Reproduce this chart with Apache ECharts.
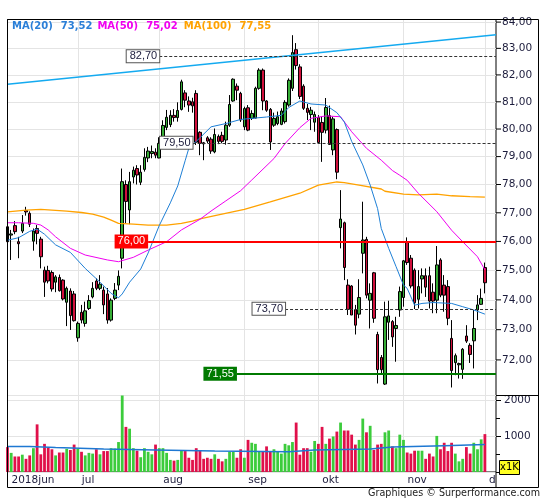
<!DOCTYPE html>
<html><head><meta charset="utf-8">
<script src="https://cdn.jsdelivr.net/npm/echarts/dist/echarts.min.js"></script>
<style>html,body{margin:0;padding:0;background:#fff}#c{width:545px;height:500px}</style>
</head><body><div id="c"></div>
<script>
// ---------- data ----------
const startDate = [2018, 5, 5];   // first trading day shown (2018-06-05)
const slotCount = 133;            // weekdays on the axis (incl. empty days at the end)
const monthNames = ['jan','feb','mar','apr','mai','jun','jul','aug','sep','okt','nov','d'];

const open = [76.51,76.22,76.55,75.99,76.36,77.08,76.98,76.01,76.45,76.08, 75.01,75.00,74.93,74.60,74.76,74.67,73.92,74.30,74.20,72.73, 73.58,73.21,73.71,74.10,74.64,74.39,74.33,74.20,73.32,74.05, 74.50,75.42,78.00,77.10,78.27,78.57,78.08,78.54,78.95,79.11, 79.16,78.95,79.55,80.06,80.16,80.50,80.42,80.72,81.33,81.03, 81.00,81.31,79.88,79.50,79.68,79.63,79.17,79.73,79.77,79.60, 80.14,81.03,81.58,81.31,80.08,80.78,80.39,80.40,81.50,82.18, 81.03,80.72,80.14,80.20,80.17,80.27,80.88,81.50,82.95,82.30, 81.58,80.76,80.53,80.25,80.42,80.24,79.96,80.49,79.24,79.98, 76.48,76.65,74.50,74.47,73.67,73.52,75.59,76.07,73.99,74.92, 72.84,72.08,71.21,73.25,73.27,73.04,73.66,74.08,75.97,75.42, 75.01,74.02,74.71,74.82,74.82,74.26,73.99,75.36,74.50,74.45, 72.71,71.91,71.84,71.69,72.79,72.48,72.63,73.66,73.85,75.10];
const close = [75.99,76.26,76.34,75.92,76.63,77.03,76.60,76.36,76.28,75.47, 74.60,74.64,74.37,74.78,74.31,74.03,74.39,73.47,73.30,73.21, 73.32,73.63,73.98,74.39,74.39,74.53,73.83,73.32,73.99,74.33, 74.80,78.10,77.40,78.10,78.51,78.34,78.44,78.97,79.20,79.18, 79.05,79.48,80.13,80.43,80.50,80.42,80.68,81.74,81.06,80.88, 80.85,79.52,79.48,79.46,79.56,79.20,79.80,79.55,79.55,80.14, 80.90,81.84,81.43,80.33,80.75,79.96,80.57,81.50,82.18,81.03, 80.69,79.53,80.39,80.45,80.66,80.98,81.80,82.84,82.35,81.20, 80.76,80.61,80.69,80.53,79.51,79.88,80.79,79.44,80.37,78.44, 76.78,75.10,73.68,73.49,73.15,74.08,76.05,74.16,74.22,73.38, 71.68,71.68,73.43,73.46,72.76,73.14,74.28,75.33,75.27,74.47, 73.90,74.45,74.82,74.43,73.96,73.96,75.19,74.16,74.16,73.38, 71.65,72.14,71.88,72.35,72.62,72.18,73.04,73.83,74.05,74.58];
const low = [75.88,75.36,76.25,75.42,76.29,76.90,76.50,75.68,75.90,75.07, 74.10,74.56,74.28,74.26,74.28,73.98,73.12,72.99,73.27,72.60, 73.21,73.10,73.66,74.05,74.33,74.33,73.52,73.20,73.27,73.99, 74.33,75.07,76.63,76.60,78.04,78.00,77.98,78.46,78.80,78.94, 78.94,78.94,79.54,79.96,80.07,80.27,80.27,80.68,80.80,80.63, 80.60,79.42,79.05,78.87,79.49,79.10,79.12,79.45,79.48,79.43, 80.08,81.00,81.06,80.26,79.96,79.92,80.33,80.39,81.45,80.69, 80.63,79.24,80.08,80.14,80.14,80.20,80.82,81.40,82.20,81.10, 80.70,80.33,79.96,79.90,79.51,78.81,79.84,79.42,79.05,78.19, 75.76,74.67,73.49,73.49,72.84,73.38,74.90,74.05,73.04,73.23, 71.23,71.55,71.18,72.66,72.43,71.94,73.43,73.77,75.19,74.39, 73.69,73.71,74.22,74.10,73.71,73.55,73.55,74.09,73.60,73.15, 71.10,71.50,71.39,71.38,72.56,71.90,71.72,73.32,73.83,74.22];
const high = [76.75,76.40,76.71,76.16,76.92,77.21,77.05,76.45,76.57,76.16, 75.13,75.16,75.00,74.84,74.86,74.70,74.45,74.39,74.30,73.27, 73.83,73.94,74.16,74.60,74.73,74.84,74.45,74.40,74.05,74.57, 75.00,78.57,78.15,78.45,78.64,78.69,78.69,79.30,79.35,79.40, 79.30,79.70,80.32,80.70,80.69,80.73,80.98,81.82,81.43,81.20, 81.15,81.43,79.92,79.53,79.74,79.70,80.02,79.80,79.90,80.27, 81.25,81.87,81.68,81.37,80.82,80.88,80.69,81.56,82.25,82.24, 81.06,80.77,80.60,80.64,80.76,81.06,81.87,83.50,83.20,82.40, 81.65,80.92,80.81,80.64,80.51,80.45,81.14,80.86,80.45,80.02, 77.80,76.69,74.70,74.50,73.83,74.70,77.39,76.16,74.56,74.95, 72.93,72.16,73.94,73.97,73.32,73.43,74.45,75.36,76.14,75.53, 75.07,75.01,75.07,75.07,75.13,74.56,75.84,75.42,74.84,74.67, 73.32,72.21,71.91,72.39,73.15,72.55,73.66,74.16,74.38,75.27];

// volume in thousands
const volume = [690,530,430,430,480,365,460,660,1320,490, 780,680,630,460,540,540,640,610,760,640, 560,460,530,510,630,490,580,580,660,650, 830,2150,1250,1200,660,590,410,660,560,490, 760,660,660,530,335,315,335,610,580,395, 335,660,610,365,395,365,490,365,295,365, 560,560,395,630,395,890,810,780,560,560, 710,580,630,560,510,780,740,830,1370,480, 660,660,560,860,780,1250,780,925,985,1120, 1370,1150,1150,1035,760,890,1480,1100,1280,610, 760,780,1100,1150,710,660,1035,890,540,510, 590,590,590,365,510,430,1000,630,810,580, 810,510,295,365,690,510,810,630,905,1050];
const volumeAvg = [[0,710],[6,680],[13,640],[26,610],[40,580],[56,560],[76,610],[83,640],[98,690],[104,730],[118,760],[129,760]];

// moving averages: [slot index, value]
const ma20 = [[0,76.04],[3,76.13],[6,76.35],[8,76.43],[10,76.25],[13,75.88],[17,75.62],[21,75.07],[25,74.6],[28,74.22],[30,74.07],[31,74.2],[33,74.6],[36,75.05],[38,75.6],[41,76.55],[44,77.35],[46,77.95],[48,78.85],[49,79.3],[52,79.68],[55,80.08],[59,80.2],[63,80.35],[66,80.39],[70,80.44],[74,80.5],[76,80.79],[79,81.03],[82,80.92],[86,80.88],[89,80.6],[91,80.26],[93,79.55],[96,78.7],[98,77.98],[100,77.15],[101,76.45],[103,75.76],[105,75.13],[107,74.5],[108,74.39],[110,73.82],[112,73.88],[115,73.91],[120,73.88],[123,73.77],[126,73.66],[129,73.52]];
const ma50 = [[0,76.65],[3,76.65],[7,76.63],[9,76.57],[11,76.4],[13,76.16],[17,75.76],[21,75.53],[27,75.36],[30,75.3],[34,75.45],[38,75.7],[43,75.99],[47,76.4],[52,76.77],[55,77.06],[59,77.42],[63,77.78],[66,78.16],[72,78.93],[75,79.47],[79,80.05],[82,80.39],[86,80.48],[90,80.45],[93,79.9],[97,79.3],[101,78.87],[104,78.5],[106,78.33],[108,78.15],[111,77.69],[116,77.04],[120,76.39],[123,75.99],[127,75.47],[129,75.02]];
const ma100 = [[0,77.03],[5,77.09],[9,77.12],[16,77.06],[20,77.01],[23,76.95],[26,76.85],[28,76.74],[30,76.63],[34,76.6],[38,76.57],[43,76.57],[47,76.63],[50,76.71],[52,76.79],[57,76.93],[64,77.12],[71,77.38],[79,77.69],[84,77.98],[89,78.09],[91,78.07],[95,77.98],[101,77.84],[102,77.76],[107,77.66],[111,77.63],[116,77.66],[120,77.6],[125,77.57],[129,77.55]];

const priceTicks = [72,73,74,75,76,77,78,79,80,81,82,83,84];
const redLevel = 76.00, greenLevel = 71.55;
const dashedLevels = [82.70, 79.50, 73.70];
const redStart = 38, greenStart = 62, dashedStarts = [41, 50, 75];
const trendLine = [[0, 81.65], [132, 83.52]];
const volTicks = [1000, 2000];

// ---------- helpers ----------
const fmt = v => v.toFixed(2).replace('.', ',');
const dates = [];
{
  const d = new Date(Date.UTC(startDate[0], startDate[1], startDate[2]));
  while (dates.length < slotCount) {
    const wd = d.getUTCDay();
    if (wd > 0 && wd < 6) dates.push(new Date(d.getTime()));
    d.setUTCDate(d.getUTCDate() + 1);
  }
}
const cats = dates.map(x => x.toISOString().slice(0, 10));
const isMonthStart = i => i === 0 || dates[i].getUTCMonth() !== dates[i - 1].getUTCMonth();
const labelOf = i => (i === 0 ? dates[0].getUTCFullYear() : '') + monthNames[dates[i].getUTCMonth()];

const UP = '#36ad36', DN = '#d0103c', VUP = '#3ccc3c', VDN = '#e0104a';
const FONT = 'DejaVu Sans', TXT = '#1c1c3c';
const candles = open.map((o, i) => [o, close[i], low[i], high[i]]);
const volData = volume.map((v, i) => ({ value: v, itemStyle: { color: close[i] >= open[i] ? VUP : VDN } }));
const last = a => a[a.length - 1][1];

const tickRich = {
  t: { width: 5, height: 1, backgroundColor: '#000' },
  v: { padding: [0, 0, 0, 1], fontFamily: FONT, fontSize: 10.5, color: TXT }
};
const gridMarks = [];
priceTicks.forEach(v => {
  gridMarks.push({ yAxis: v, lineStyle: { color: '#e4e4e4', width: 1, type: 'solid' },
    label: { formatter: () => '{t| }{v|' + fmt(v) + '}' } });
});
[71].concat(priceTicks).forEach(v => {
  if (v + 0.5 < 84.1) gridMarks.push({ yAxis: v + 0.5, lineStyle: { opacity: 0 }, label: { formatter: () => '{t| }' } });
});

const boxLabel = (txt, bg, fg, border) => ({
  show: true, position: 'start', distance: 0, formatter: () => txt,
  backgroundColor: bg, color: fg, borderColor: border, borderWidth: border ? 1 : 0,
  padding: border ? [1, 2, 0, 3] : [2, 3, 1, 3], fontFamily: 'Liberation Sans', fontSize: 11
});
const specialMarks = [
  [{ coord: trendLine[0], lineStyle: { color: '#14aaf0', width: 1.5, type: 'solid' }, label: { show: false } }, { coord: trendLine[1] }],
  [{ coord: [redStart, redLevel], lineStyle: { color: '#ff0000', width: 2, type: 'solid' }, label: boxLabel(fmt(redLevel), '#ff0000', '#fff') }, { coord: [slotCount - 1, redLevel] }],
  [{ coord: [greenStart, greenLevel], lineStyle: { color: '#007a00', width: 2, type: 'solid' }, label: boxLabel(fmt(greenLevel), '#007a00', '#fff') }, { coord: [slotCount - 1, greenLevel] }]
].concat(dashedLevels.map((v, k) => [
  { coord: [dashedStarts[k], v], lineStyle: { color: '#333', width: 1, type: [3, 2] }, label: boxLabel(fmt(v), '#fff', TXT, '#555') },
  { coord: [slotCount - 1, v] }
]));

const xAxisFor = gi => ({
  type: 'category', gridIndex: gi, data: cats, boundaryGap: false,
  axisLine: { show: false }, axisTick: { show: false },
  splitLine: { show: true, interval: i => i > 0 && isMonthStart(i), lineStyle: { color: '#e4e4e4', width: 1 } },
  axisLabel: { show: gi === 1, interval: i => isMonthStart(i), formatter: (v, i) => labelOf(i),
    align: 'left', padding: [0, 0, 0, 4], margin: 3, color: TXT, fontFamily: FONT, fontSize: 10.5 }
});

const chart = echarts.init(document.getElementById('c'), null, { renderer: 'canvas' });
chart.setOption({
  animation: false,
  backgroundColor: '#fff',
  title: {
    left: 12, top: 21, padding: 0,
    text: '{a|MA(20)}{av|' + fmt(last(ma20)) + '}{b|MA(50)}{bv|' + fmt(last(ma50)) + '}{c|MA(100)}{cv|' + fmt(last(ma100)) + '}',
    textStyle: { rich: {
      a: { color: '#2a7fd8', fontFamily: FONT, fontSize: 10 },
      av: { color: '#2a7fd8', fontFamily: FONT, fontSize: 10, padding: [0, 0, 0, 8] },
      b: { color: '#f000f0', fontFamily: FONT, fontSize: 10, padding: [0, 0, 0, 5] },
      bv: { color: '#f000f0', fontFamily: FONT, fontSize: 10, padding: [0, 0, 0, 8] },
      c: { color: '#ffa200', fontFamily: FONT, fontSize: 10, padding: [0, 0, 0, 6] },
      cv: { color: '#ffa200', fontFamily: FONT, fontSize: 10, padding: [0, 0, 0, 8] }
    } }
  },
  grid: [
    { left: 7.5, top: 19.5, width: 488.5, height: 376, show: true, borderColor: '#000', borderWidth: 1, backgroundColor: 'rgba(0,0,0,0)' },
    { left: 7.5, top: 395.5, width: 488.5, height: 76.5, show: true, borderColor: '#000', borderWidth: 1, backgroundColor: 'rgba(0,0,0,0)' }
  ],
  xAxis: [xAxisFor(0), xAxisFor(1)],
  yAxis: [
    { type: 'log', logBase: 10, gridIndex: 0, min: 70.84, max: 84.1, position: 'right',
      axisLine: { show: false }, axisTick: { show: false }, axisLabel: { show: false }, splitLine: { show: false } },
    { type: 'value', gridIndex: 1, min: 0, max: 2120, interval: 1000, position: 'right',
      axisLine: { show: false },
      axisTick: { show: true, length: 5, lineStyle: { color: '#000' } },
      minorTick: { show: true, splitNumber: 2, length: 4, lineStyle: { color: '#000' } },
      axisLabel: { formatter: v => (volTicks.indexOf(v) >= 0 ? String(v) : ''), margin: 8, color: TXT, fontFamily: FONT, fontSize: 10.5 },
      splitLine: { show: true, lineStyle: { color: '#e4e4e4' } } }
  ],
  series: [
    { name: 'MA100', type: 'line', xAxisIndex: 0, yAxisIndex: 0, data: ma100, showSymbol: false, z: 3,
      lineStyle: { color: '#ffa200', width: 1.3 },
      markLine: { z: 1, silent: true, animation: false, symbol: ['none', 'none'],
        label: { show: true, position: 'end', distance: 0, rich: tickRich }, data: gridMarks } },
    { type: 'candlestick', xAxisIndex: 0, yAxisIndex: 0, data: candles, barWidth: 3, z: 2,
      itemStyle: { color: UP, color0: DN, borderColor: '#000', borderColor0: '#000', borderWidth: 1 } },
    { name: 'MA50', type: 'line', xAxisIndex: 0, yAxisIndex: 0, data: ma50, showSymbol: false, z: 3,
      lineStyle: { color: '#f000f0', width: 1 } },
    { name: 'MA20', type: 'line', xAxisIndex: 0, yAxisIndex: 0, data: ma20, showSymbol: false, z: 3,
      lineStyle: { color: '#1e7fd6', width: 1 },
      markLine: { z: 6, silent: true, animation: false, symbol: ['none', 'none'], data: specialMarks } },
    { type: 'bar', xAxisIndex: 1, yAxisIndex: 1, data: volData, barWidth: 2.8, z: 2 },
    { type: 'line', xAxisIndex: 1, yAxisIndex: 1, data: volumeAvg, step: 'end', showSymbol: false, z: 3,
      lineStyle: { color: '#1e78d2', width: 1.5 } }
  ],
  graphic: [
    { type: 'rect', shape: { x: 7.5, y: 19.5, width: 531, height: 468 }, style: { fill: 'none', stroke: '#000', lineWidth: 1 }, z: 10, silent: true },
    { type: 'line', shape: { x1: 496, y1: 395.5, x2: 538.5, y2: 395.5 }, style: { stroke: '#000', lineWidth: 1 }, z: 10, silent: true },
    { type: 'line', shape: { x1: 496, y1: 472, x2: 496, y2: 487.5 }, style: { stroke: '#000', lineWidth: 1 }, z: 10, silent: true },
    { type: 'rect', shape: { x: 499.5, y: 460.5, width: 20, height: 14 }, style: { fill: '#ffff22', stroke: '#000', lineWidth: 1 }, z: 10, silent: true },
    { type: 'text', x: 509.5, y: 467.5, style: { text: 'x1K', fill: '#000', font: '10px "DejaVu Sans"', textAlign: 'center', textVerticalAlign: 'middle' }, z: 11, silent: true },
    { type: 'text', x: 540, y: 493, style: { text: 'Graphiques © Surperformance.com', fill: '#222', font: '9.6px "DejaVu Sans"', textAlign: 'right', textVerticalAlign: 'middle' }, z: 11, silent: true }
  ]
});
</script>
</body></html>
